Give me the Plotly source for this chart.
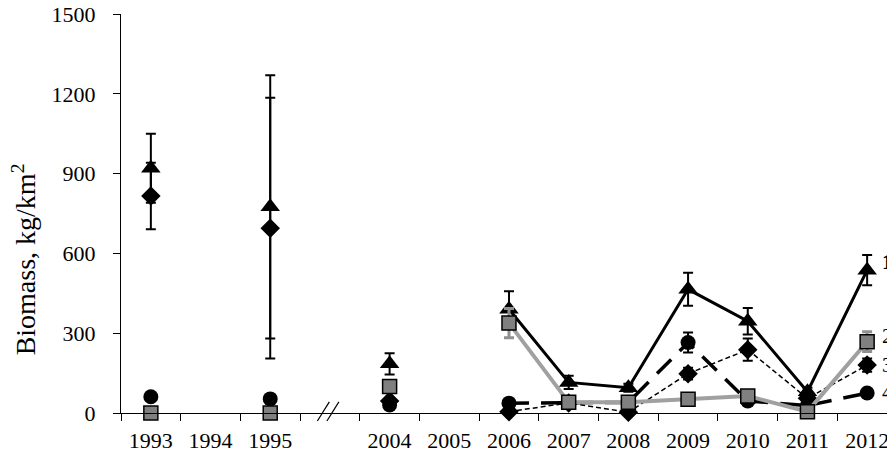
import plotly.graph_objects as go

# categories (one empty slot stands for the axis break)
years = ["1993", "1994", "1995", "", "2004", "2005", "2006", "2007", "2008", "2009", "2010", "2011", "2012"]
xpos = list(range(len(years)))

# series 1 - triangles
tri = [920, None, 775, None, 185, None, 390, 115, 95, 465, 345, 80, 537]
tri_err = [130, 0, 495, 0, 40, 0, 68, 25, 15, 62, 50, 15, 57]
# series 2 - squares
sq = [0, None, 0, None, 100, None, 338, 40, 40, 52, 64, 5, 268]
sq_err = [0, 0, 0, 0, 0, 0, 55, 0, 0, 0, 0, 0, 37]
# series 3 - diamonds
dia = [816, None, 695, None, 45, None, 5, 38, 3, 148, 238, 55, 180]
dia_err = [125, 0, 490, 0, 0, 0, 0, 0, 0, 22, 42, 0, 25]
# series 4 - circles
cir = [61, None, 53, None, 30, None, 37, 40, 40, 265, 45, 28, 75]
cir_err = [0, 0, 0, 0, 0, 0, 0, 0, 0, 38, 0, 0, 0]

series_labels = ["1", "2", "3", "4"]
label_y = [567, 290, 182, 78]

FONT = "Liberation Serif"

fig = go.Figure()

# triangles, black solid
fig.add_trace(go.Scatter(
    x=xpos, y=tri, mode="lines+markers", cliponaxis=False,
    line=dict(color="black", width=3),
    marker=dict(symbol="triangle-up", size=17, color="black"),
    error_y=dict(type="data", array=tri_err, color="black", thickness=2, width=5),
))
# diamonds, thin dashed
fig.add_trace(go.Scatter(
    x=xpos, y=dia, mode="lines+markers", cliponaxis=False,
    line=dict(color="black", width=1.5, dash="5px,3px"),
    marker=dict(symbol="diamond", size=15, color="black"),
    error_y=dict(type="data", array=dia_err, color="black", thickness=2, width=5),
))
# circles, long dash
fig.add_trace(go.Scatter(
    x=xpos, y=cir, mode="lines+markers", cliponaxis=False,
    line=dict(color="black", width=3.5, dash="20px,12px"),
    marker=dict(symbol="circle", size=15, color="black"),
    error_y=dict(type="data", array=cir_err, color="black", thickness=2, width=5),
))
# squares, grey
fig.add_trace(go.Scatter(
    x=xpos, y=sq, mode="lines+markers", cliponaxis=False,
    line=dict(color="#a0a0a0", width=4),
    marker=dict(symbol="square", size=14, color="#808080", line=dict(color="black", width=1.5)),
    error_y=dict(type="data", array=sq_err, color="#909090", thickness=3, width=5),
))

# series numbers at the right
for i, (lab, yv) in enumerate(zip(series_labels, label_y)):
    fig.add_annotation(
        x=12.21, y=yv, xref="x", yref="y", text="<b>%s</b>" % lab if i == 0 else lab,
        showarrow=False, xanchor="left", yanchor="middle",
        font=dict(family=FONT, size=21, color="black"),
    )

# y axis title
fig.add_annotation(
    x=-0.1255, y=0.385, xref="paper", yref="paper", text="Biomass, kg/km<sup>2</sup>",
    textangle=-90, showarrow=False, xanchor="center", yanchor="middle",
    font=dict(family=FONT, size=28, color="black"),
)

# axis break "//"
for dx in (-0.11, 0.05):
    fig.add_shape(type="line", xref="x", yref="paper",
                  x0=3 + dx - 0.1, y0=-0.02, x1=3 + dx + 0.1, y1=0.028,
                  line=dict(color="black", width=1.2))

# the page puts the figure 8px in from the corner, so margins are 8px less
fig.update_layout(
    width=895, height=452,
    margin=dict(l=113, r=9, t=6, b=47, autoexpand=False),
    paper_bgcolor="white", plot_bgcolor="white",
    showlegend=False,
    font=dict(family=FONT, size=22, color="black"),
)
fig.update_xaxes(
    range=[-0.5, 12.45], showgrid=False, zeroline=False, automargin=False,
    showline=True, linecolor="black", linewidth=1,
    tickmode="array", tickvals=xpos, ticktext=years,
    ticks="outside", ticklen=8, tickcolor="rgba(0,0,0,0)",
    minor=dict(ticks="outside", tickmode="linear", tick0=-0.5, dtick=1,
               ticklen=7, tickcolor="black", tickwidth=1, showgrid=False),
    tickfont=dict(family=FONT, size=22),
    ticklabeloverflow="allow",
)
fig.update_yaxes(
    range=[0, 1500], showgrid=False, zeroline=False, automargin=False,
    showline=True, linecolor="black", linewidth=1,
    tickvals=[0, 300, 600, 900, 1200, 1500],
    ticks="outside", ticklen=7, tickcolor="black",
    ticklabelstandoff=13,
    tickfont=dict(family=FONT, size=22),
    ticklabeloverflow="allow",
)

fig.write_html("out.html")
